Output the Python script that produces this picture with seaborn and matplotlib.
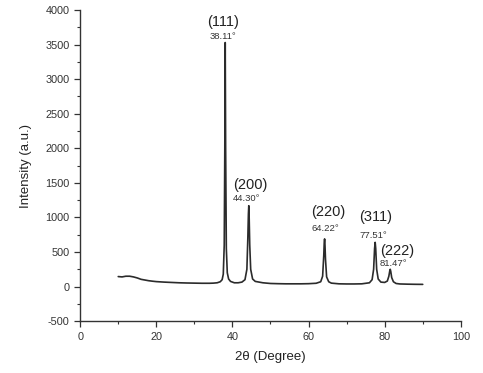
import matplotlib
matplotlib.use("Agg")
import matplotlib.pyplot as plt
import seaborn as sns
import pandas as pd
from matplotlib.ticker import MultipleLocator

two_theta = [10, 11, 12, 13, 14, 15, 16, 17, 18, 19, 20, 22, 24, 26, 28, 30, 32, 34, 35, 36,
             36.8, 37.3, 37.6, 37.85, 38.0, 38.11, 38.22, 38.4, 38.65, 39.0, 39.5, 40.5, 41.5,
             42.5, 43.3, 43.8, 44.05, 44.2, 44.3, 44.4, 44.55, 44.8, 45.3, 46, 48, 50, 52, 54,
             56, 58, 60, 62, 63.2, 63.7, 64.0, 64.12, 64.22, 64.32, 64.45, 64.75, 65.3, 66, 68,
             70, 72, 74, 76, 76.7, 77.1, 77.35, 77.51, 77.65, 77.9, 78.3, 79, 80, 80.7, 81.1,
             81.35, 81.47, 81.6, 81.85, 82.3, 83, 84, 86, 88, 90]
intensity = [145, 140, 150, 150, 140, 125, 105, 95, 85, 78, 72, 65, 60, 55, 52, 50, 48, 48, 50, 55,
             70, 100, 180, 600, 2000, 3530, 2000, 550, 200, 110, 75, 55, 55,
             65, 100, 250, 700, 1050, 1170, 1000, 600, 250, 110, 75, 55, 45, 42, 40,
             40, 40, 42, 48, 70, 150, 450, 630, 690, 600, 400, 140, 70, 50, 40,
             38, 38, 40, 55, 100, 250, 550, 640, 550, 250, 110, 65, 60, 80, 150,
             230, 250, 220, 130, 70, 45, 38, 35, 33, 32]

hkl_labels = ["(111)", "(200)", "(220)", "(311)", "(222)"]
hkl_x = [37.5, 44.6, 65.1, 77.7, 83.2]
hkl_y = [3826, 1464, 1072, 1000, 510]
angle_labels = ["38.11°", "44.30°", "64.22°", "77.51°", "81.47°"]
angle_x = [37.5, 43.8, 64.3, 77.0, 82.4]
angle_y = [3620, 1280, 840, 740, 330]

sns.set_style("ticks")
plt.rcParams['font.family'] = ['Liberation Sans', 'DejaVu Sans']
plt.rcParams['axes.unicode_minus'] = False

fig = plt.figure(figsize=(4.83, 3.73), dpi=100)
ax = fig.add_axes([0.166, 0.139, 0.788, 0.834])

df = pd.DataFrame({"x": two_theta, "y": intensity})
sns.lineplot(data=df, x="x", y="y", ax=ax, color="#2b2b2b", linewidth=1.2)

for t, x, y in zip(hkl_labels, hkl_x, hkl_y):
    ax.text(x, y, t, ha="center", va="center", fontsize=10.5, color="#222222")
for t, x, y in zip(angle_labels, angle_x, angle_y):
    ax.text(x, y, t, ha="center", va="center", fontsize=6.8, color="#333333")

ax.set_xlim(0, 100)
ax.set_ylim(-500, 4000)
ax.xaxis.set_major_locator(MultipleLocator(20))
ax.xaxis.set_minor_locator(MultipleLocator(10))
ax.yaxis.set_major_locator(MultipleLocator(500))
ax.yaxis.set_minor_locator(MultipleLocator(250))
ax.tick_params(which="major", direction="out", length=4, width=0.9, labelsize=7.8, colors="#333333")
ax.tick_params(which="minor", direction="out", length=2.5, width=0.8, colors="#333333")
for s in ["left", "bottom"]:
    ax.spines[s].set_linewidth(1.0)
    ax.spines[s].set_color("#333333")
sns.despine(ax=ax)

ax.set_xlabel("2θ (Degree)", fontsize=9.5, color="#222222", labelpad=7)
ax.set_ylabel("Intensity (a.u.)", fontsize=9.5, color="#222222", labelpad=10)

fig.savefig("out.png", dpi=100)
